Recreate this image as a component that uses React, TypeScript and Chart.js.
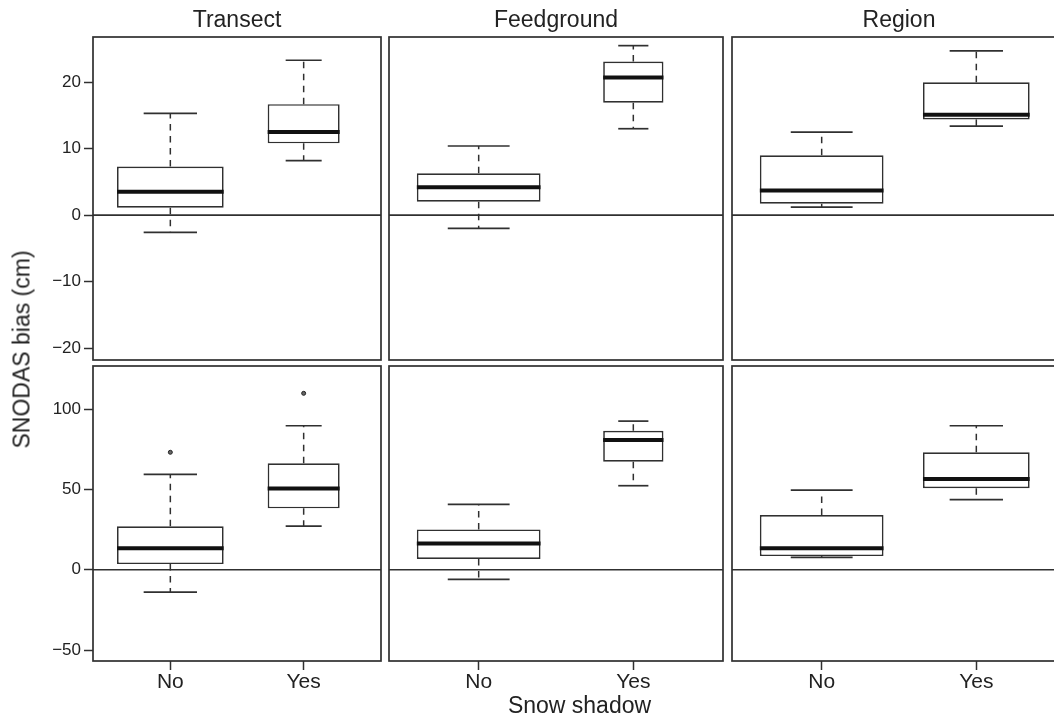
import React, { useEffect, useRef } from 'react';
import { Chart, registerables } from 'chart.js';

Chart.register(...registerables);

// ---------- data ----------
const facets = ['Transect', 'Feedground', 'Region'];
const groups = ['No', 'Yes'];
const groupPositions = [1, 2];
// relative box widths per facet (varwidth, proportional to sqrt(n))
const boxWidths = [
  [0.8, 0.54],
  [0.8, 0.39],
  [0.8, 0.69],
];
const xLimits = [0.42, 2.58];

const topYLimits = [-21.8, 26.8];
const topYTicks = [-20, -10, 0, 10, 20];
const bottomYLimits = [-56.8, 126.8];
const bottomYTicks = [-50, 0, 50, 100];

// five-number summaries: [lower whisker, Q1, median, Q3, upper whisker]
const topTransect = [[-2.6, 1.1, 3.5, 7.3, 15.3], [8.2, 10.8, 12.5, 16.7, 23.3]];
const topFeedground = [[-2.0, 2.0, 4.2, 6.3, 10.4], [13.0, 16.9, 20.7, 23.1, 25.5]];
const topRegion = [[1.2, 1.7, 3.7, 9.0, 12.5], [13.4, 14.4, 15.1, 20.0, 24.7]];
const bottomTransect = [[-13.9, 3.5, 13.3, 27.0, 59.4], [27.2, 38.2, 50.6, 66.2, 89.6]];
const bottomFeedground = [[-6.0, 6.7, 16.4, 25.1, 40.7], [52.3, 67.2, 80.7, 86.5, 92.5]];
const bottomRegion = [[7.7, 8.5, 13.3, 34.0, 49.6], [43.6, 50.7, 56.4, 73.1, 89.6]];

const topOutliers = [[[], []], [[], []], [[], []]];
const bottomTransectOutliers = [[73.1], [109.8]];
const bottomOutliers = [bottomTransectOutliers, [[], []], [[], []]];

const yAxisTitle = 'SNODAS bias (cm)';
const xAxisTitle = 'Snow shadow';

// ---------- style ----------
const FONT = '"Liberation Sans", Arial, Helvetica, sans-serif';
const INK = '#303030';
const TEXT = '#222222';
const LW = 1.7;

Chart.defaults.font.family = FONT;

const colEdges = [[93, 381], [389, 723], [732, 1066]];
const rowEdges = [[37, 360], [366, 661]];

const framePlugin = {
  id: 'frame',
  afterDraw(chart: any) {
    const { ctx, chartArea: a } = chart;
    ctx.save();
    ctx.strokeStyle = INK;
    ctx.lineWidth = LW;
    ctx.strokeRect(a.left, a.top, a.right - a.left, a.bottom - a.top);
    ctx.restore();
  },
};

function segment(data: any[], width: number, dash: number[] = [], color = INK, order = 5) {
  return {
    type: 'line',
    data,
    borderColor: color,
    borderWidth: width,
    borderDash: dash,
    pointRadius: 0,
    pointHoverRadius: 0,
    fill: false,
    order,
  };
}

function Panel({ row, col }: { row: number; col: number }) {
  const ref = useRef<HTMLCanvasElement>(null);
  const [x0, x1] = colEdges[col];
  const [y0, y1] = rowEdges[row];
  const canvasLeft = col === 0 ? 0 : x0 - 6;
  const canvasRight = x1 + 6;
  const canvasTop = row === 0 ? 0 : y0 - 6;
  const canvasBottom = row === 1 ? 719 : y1 + 6;
  const width = canvasRight - canvasLeft;
  const height = canvasBottom - canvasTop;

  useEffect(() => {
    const stats = row === 0 ? [topTransect, topFeedground, topRegion][col] : [bottomTransect, bottomFeedground, bottomRegion][col];
    const outliers = row === 0 ? topOutliers[col] : bottomOutliers[col];
    const yLimits = row === 0 ? topYLimits : bottomYLimits;
    const yTicks = row === 0 ? topYTicks : bottomYTicks;
    const widths = boxWidths[col];

    const datasets: any[] = [];
    datasets.push(segment([{ x: xLimits[0], y: 0 }, { x: xLimits[1], y: 0 }], LW, [], INK, 20));
    stats.forEach((s, g) => {
      const pos = groupPositions[g];
      const w = widths[g];
      datasets.push({
        type: 'bar',
        data: [{ x: pos, y: [s[1], s[3]] }],
        backgroundColor: '#ffffff',
        borderColor: INK,
        borderWidth: LW,
        borderSkipped: false,
        grouped: false,
        categoryPercentage: 1,
        barPercentage: w,
        order: 10,
      });
      datasets.push(segment([{ x: pos, y: s[3] }, { x: pos, y: s[4] }], 1.5, [6.5, 5.5]));
      datasets.push(segment([{ x: pos, y: s[1] }, { x: pos, y: s[0] }], 1.5, [6.5, 5.5]));
      datasets.push(segment([{ x: pos - w / 4, y: s[4] }, { x: pos + w / 4, y: s[4] }], LW));
      datasets.push(segment([{ x: pos - w / 4, y: s[0] }, { x: pos + w / 4, y: s[0] }], LW));
      datasets.push(segment([{ x: pos - w / 2, y: s[2] }, { x: pos + w / 2, y: s[2] }], 4, [], '#111', 1));
    });
    const outlierPoints: any[] = [];
    outliers.forEach((arr: number[], g: number) => arr.forEach((v) => outlierPoints.push({ x: groupPositions[g], y: v })));
    datasets.push({
      type: 'line',
      data: outlierPoints,
      showLine: false,
      pointRadius: 2,
      pointHoverRadius: 2,
      pointBackgroundColor: '#666',
      pointBorderColor: '#222',
      pointBorderWidth: 1,
      order: 0,
    });

    const chart = new Chart(ref.current as HTMLCanvasElement, {
      type: 'bar',
      data: { datasets },
      plugins: [framePlugin],
      options: {
        animation: false,
        responsive: false,
        maintainAspectRatio: false,
        events: [],
        layout: {
          padding: {
            left: col === 0 ? 0 : 6,
            right: 6,
            top: row === 0 ? 0 : 6,
            bottom: row === 1 ? 0 : 6,
          },
        },
        plugins: {
          legend: { display: false },
          tooltip: { enabled: false },
          title: {
            display: row === 0,
            text: facets[col],
            fullSize: false,
            color: TEXT,
            font: { size: 23, weight: 'normal', family: FONT, lineHeight: 1.2 },
            padding: { top: 6.5, bottom: 2.9 },
          },
        },
        scales: {
          x: {
            type: 'linear',
            display: row === 1,
            min: xLimits[0],
            max: xLimits[1],
            bounds: 'data',
            offset: false,
            grid: { display: true, offset: false, drawOnChartArea: false, drawTicks: true, tickLength: 9, tickColor: INK, tickWidth: 1.5 },
            border: { display: false },
            ticks: {
              autoSkip: false,
              maxRotation: 0,
              minRotation: 0,
              padding: 0,
              color: TEXT,
              font: { size: 21, family: FONT },
              callback: (v: any) => {
                const i = groupPositions.indexOf(Number(v));
                return i >= 0 ? groups[i] : '';
              },
            },
            afterBuildTicks: (scale: any) => {
              scale.ticks = groupPositions.map((value) => ({ value }));
            },
            afterFit: (scale: any) => {
              if (row === 1) scale.height = 719 - y1;
              scale.paddingLeft = 0;
              scale.paddingRight = 0;
            },
          },
          y: {
            type: 'linear',
            display: col === 0,
            min: yLimits[0],
            max: yLimits[1],
            bounds: 'data',
            grid: { display: true, drawOnChartArea: false, drawTicks: true, tickLength: 9, tickColor: INK, tickWidth: 1.5 },
            border: { display: false },
            ticks: {
              autoSkip: false,
              padding: 3,
              color: TEXT,
              font: { size: 17, family: FONT },
              callback: (v: any) => (Number(v) < 0 ? '\u2212' + Math.abs(Number(v)) : String(v)),
            },
            afterBuildTicks: (scale: any) => {
              scale.ticks = yTicks.map((value) => ({ value }));
            },
            afterFit: (scale: any) => {
              if (col === 0) scale.width = x0;
              scale.paddingTop = 0;
              scale.paddingBottom = 0;
            },
          },
        },
      } as any,
    });
    return () => chart.destroy();
  }, [row, col]);

  return (
    <canvas
      ref={ref}
      width={width}
      height={height}
      style={{ position: 'absolute', left: canvasLeft, top: canvasTop, width, height }}
    />
  );
}

export default function App() {
  const panels: React.ReactNode[] = [];
  for (let r = 0; r < 2; r++) {
    for (let c = 0; c < 3; c++) {
      panels.push(<Panel key={`${r}-${c}`} row={r} col={c} />);
    }
  }
  return (
    <div
      style={{
        position: 'fixed',
        left: 0,
        top: 0,
        width: 1054,
        height: 719,
        overflow: 'hidden',
        background: '#ffffff',
        fontFamily: FONT,
      }}
    >
      {panels}
      <div
        style={{
          position: 'absolute',
          left: 21.5 - 200,
          top: 349 - 11.5,
          width: 400,
          height: 23,
          lineHeight: '23px',
          fontSize: 23,
          textAlign: 'center',
          color: TEXT,
          transform: 'rotate(-90deg)',
          transformOrigin: '50% 50%',
          whiteSpace: 'nowrap',
        }}
      >
        {yAxisTitle}
      </div>
      <div
        style={{
          position: 'absolute',
          left: 579.5 - 200,
          top: 694,
          width: 400,
          height: 23,
          lineHeight: '23px',
          fontSize: 23,
          textAlign: 'center',
          color: TEXT,
          whiteSpace: 'nowrap',
        }}
      >
        {xAxisTitle}
      </div>
    </div>
  );
}
